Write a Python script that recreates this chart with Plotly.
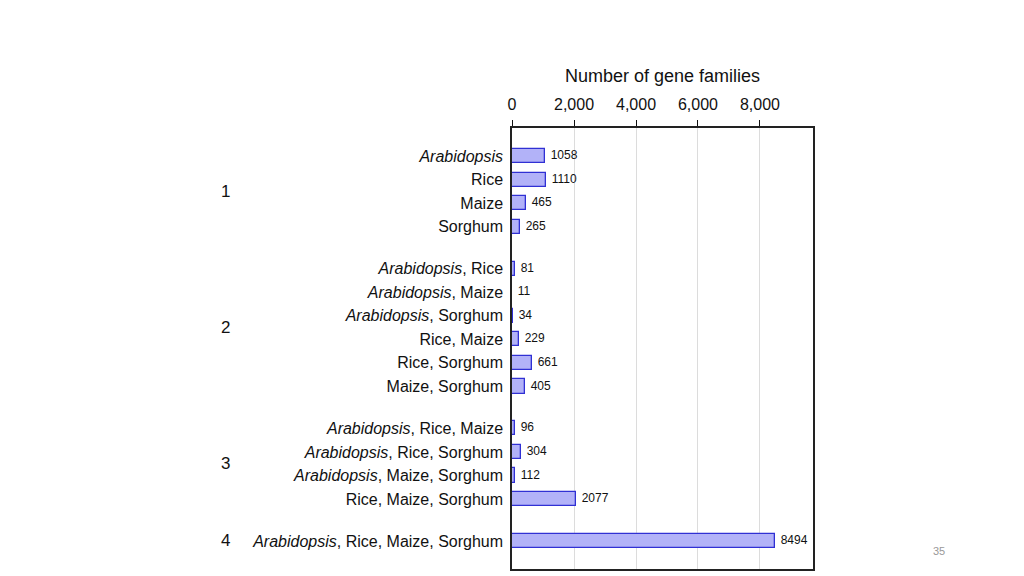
import plotly.graph_objects as go

# Data
groups = ["1", "2", "3", "4"]
group_categories = [
    ["<i>Arabidopsis</i>", "Rice", "Maize", "Sorghum"],
    ["<i>Arabidopsis</i>, Rice", "<i>Arabidopsis</i>, Maize", "<i>Arabidopsis</i>, Sorghum",
     "Rice, Maize", "Rice, Sorghum", "Maize, Sorghum"],
    ["<i>Arabidopsis</i>, Rice, Maize", "<i>Arabidopsis</i>, Rice, Sorghum",
     "<i>Arabidopsis</i>, Maize, Sorghum", "Rice, Maize, Sorghum"],
    ["<i>Arabidopsis</i>, Rice, Maize, Sorghum"],
]
group_values = [
    [1058, 1110, 465, 265],
    [81, 11, 34, 229, 661, 405],
    [96, 304, 112, 2077],
    [8494],
]
x_ticks = [0, 2000, 4000, 6000, 8000]

# Layout positions (row index + gap between groups)
GAP = 0.78
labels, values, ypos, group_centers = [], [], [], []
idx = 0
for g, (cats, vals) in enumerate(zip(group_categories, group_values)):
    ps = []
    for c, v in zip(cats, vals):
        p = idx + g * GAP
        labels.append(c)
        values.append(v)
        ypos.append(p)
        ps.append(p)
        idx += 1
    group_centers.append(sum(ps) / len(ps))

fig = go.Figure(go.Bar(
    x=values, y=ypos, orientation="h", width=0.6,
    marker=dict(color="#b2b2f8", line=dict(color="#3030d4", width=1.3)),
    text=["\u00a0" + str(v) for v in values], textposition="outside",
    textfont=dict(size=12, color="#111", family="Liberation Sans"),
    cliponaxis=False,
))

annotations = []
for g, c in zip(groups, group_centers):
    annotations.append(dict(text=g, xref="paper", yref="y", x=-0.972, y=c,
                            showarrow=False, font=dict(size=17, color="#111")))
annotations.append(dict(text="35", xref="paper", yref="paper", x=1.446, y=0.022,
                        showarrow=False, font=dict(size=11, color="#999")))

fig.update_layout(
    width=1024, height=576,
    margin=dict(l=504, r=219, t=120, b=15),
    paper_bgcolor="white", plot_bgcolor="white",
    font=dict(family="Liberation Sans", size=16, color="#111"),
    showlegend=False,
    bargap=0,
    annotations=annotations,
    xaxis=dict(
        side="top", range=[0, 9710], tickvals=x_ticks,
        ticktext=[f"{t:,}" for t in x_ticks],
        showgrid=True, gridcolor="#dcdcdc", gridwidth=1,
        ticks="outside", ticklen=6, tickcolor="#111",
        ticklabelstandoff=4,
        showline=True, linecolor="#222", linewidth=1.5, mirror=True,
        zeroline=False,
        title=dict(text="Number of gene families", standoff=9, font=dict(size=18)),
        tickfont=dict(size=16),
    ),
    yaxis=dict(
        range=[max(ypos) + 1.19, -1.19], tickvals=ypos, ticktext=labels,
        showgrid=False, ticks="", zeroline=False,
        ticklabelstandoff=4,
        showline=True, linecolor="#222", linewidth=1.5, mirror=True,
        tickfont=dict(size=16),
    ),
)

fig.write_html("out.html")
